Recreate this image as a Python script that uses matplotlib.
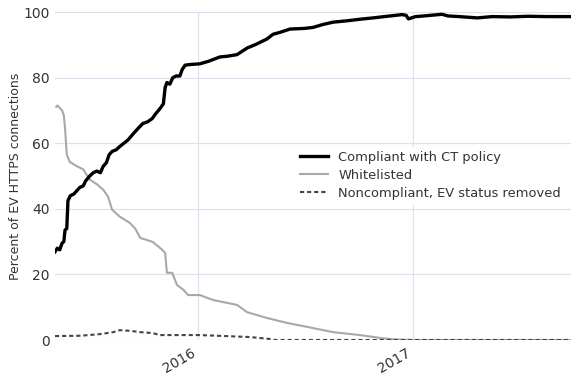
import matplotlib
matplotlib.use("Agg")
import matplotlib.pyplot as plt
import pandas as pd

# ── Series: share of EV HTTPS connections (%) ──────────────────────
compliant_dates = [
    "2015-05-04", "2015-05-08", "2015-05-12", "2015-05-16", "2015-05-19",
    "2015-05-21", "2015-05-24", "2015-05-26", "2015-05-30", "2015-06-05",
    "2015-06-10", "2015-06-15", "2015-06-21", "2015-06-25", "2015-07-02",
    "2015-07-08", "2015-07-14", "2015-07-20", "2015-07-25", "2015-07-30",
    "2015-08-04", "2015-08-09", "2015-08-16", "2015-08-22", "2015-08-29",
    "2015-09-05", "2015-09-12", "2015-09-22", "2015-09-30", "2015-10-08",
    "2015-10-16", "2015-10-22", "2015-10-29", "2015-11-04", "2015-11-07",
    "2015-11-10", "2015-11-15", "2015-11-20", "2015-11-26", "2015-12-02",
    "2015-12-06", "2015-12-11", "2015-12-20", "2016-01-05", "2016-01-20",
    "2016-02-08", "2016-02-20", "2016-03-08", "2016-03-25", "2016-04-10",
    "2016-04-28", "2016-05-08", "2016-05-20", "2016-06-06", "2016-07-01",
    "2016-07-15", "2016-08-01", "2016-08-18", "2016-09-10", "2016-10-03",
    "2016-10-25", "2016-11-18", "2016-12-13", "2016-12-20", "2016-12-24",
    "2017-01-05", "2017-01-13", "2017-02-19", "2017-03-01", "2017-03-20",
    "2017-04-20", "2017-05-15", "2017-06-15", "2017-07-15", "2017-08-15",
    "2017-09-26",
]
compliant = [
    26.9, 28.0, 27.5, 29.5, 30.0,
    33.5, 34.0, 42.5, 44.0, 44.5,
    45.5, 46.5, 47.0, 48.5, 50.0,
    51.0, 51.5, 51.0, 53.0, 54.0,
    56.5, 57.5, 58.0, 59.0, 60.0,
    61.0, 62.5, 64.5, 66.0, 66.5,
    67.5, 69.0, 70.5, 72.0, 77.0,
    78.5, 78.0, 80.0, 80.5, 80.5,
    82.5, 83.8, 84.0, 84.2, 85.0,
    86.3, 86.5, 87.0, 89.0, 90.2,
    91.8, 93.2, 93.8, 94.8, 95.0,
    95.3, 96.2, 96.9, 97.3, 97.8,
    98.2, 98.7, 99.2, 99.0, 97.9,
    98.6, 98.7, 99.3, 98.8, 98.6,
    98.2, 98.6, 98.5, 98.7, 98.6,
    98.6,
]

whitelisted_dates = [
    "2015-05-06", "2015-05-08", "2015-05-16", "2015-05-19", "2015-05-21",
    "2015-05-24", "2015-05-29", "2015-06-10", "2015-06-21", "2015-07-02",
    "2015-07-14", "2015-07-25", "2015-08-02", "2015-08-09", "2015-08-22",
    "2015-09-08", "2015-09-17", "2015-09-26", "2015-10-17", "2015-11-02",
    "2015-11-07", "2015-11-10", "2015-11-19", "2015-11-27", "2015-12-08",
    "2015-12-16", "2016-01-05", "2016-01-27", "2016-03-08", "2016-03-25",
    "2016-04-28", "2016-06-01", "2016-07-05", "2016-08-18", "2016-10-03",
    "2016-11-07", "2016-11-29", "2016-12-28", "2017-09-26",
]
whitelisted = [
    71.1, 71.5, 70.0, 68.5, 64.7,
    56.5, 54.3, 53.0, 52.0, 48.9,
    47.5, 45.8, 43.7, 39.7, 37.6,
    35.7, 34.0, 31.1, 29.9, 27.5,
    26.5, 20.5, 20.5, 16.8, 15.3,
    13.7, 13.7, 12.2, 10.7, 8.5,
    6.7, 5.2, 4.0, 2.4, 1.5,
    0.6, 0.2, 0.0, 0.0,
]

removed_dates = [
    "2015-05-04", "2015-06-16", "2015-07-20", "2015-08-11", "2015-08-22",
    "2015-09-08", "2015-09-26", "2015-10-17", "2015-10-29", "2016-01-05",
    "2016-03-30", "2016-05-03", "2016-05-12", "2017-09-26",
]
removed = [
    1.2, 1.3, 1.8, 2.4, 3.0,
    2.8, 2.4, 2.1, 1.5, 1.5,
    0.9, 0.3, 0.0, 0.0,
]

x_start, x_end = "2015-05-04", "2017-09-26"
year_ticks = ["2016-01-01", "2017-01-01"]
year_labels = ["2016", "2017"]

TXT = "#333333"
GRID = "#dde2ec"

fig = plt.figure(figsize=(5.71, 3.76), dpi=100)
ax = fig.add_axes([55 / 571, 36 / 376, 516 / 571, 328 / 376])

ax.plot(pd.to_datetime(compliant_dates), compliant, color="black", lw=2.4,
        label="Compliant with CT policy", zorder=4)
ax.plot(pd.to_datetime(whitelisted_dates), whitelisted, color="#a8a8a8",
        lw=1.5, label="Whitelisted", zorder=3)
ax.plot(pd.to_datetime(removed_dates), removed, color="#444444", lw=1.5,
        ls=(0, (2.0, 1.4)), label="Noncompliant, EV status removed", zorder=3)

ax.set_xlim(pd.Timestamp(x_start), pd.Timestamp(x_end))
ax.set_ylim(0, 100)
ax.set_yticks([0, 20, 40, 60, 80, 100])
ax.set_xticks(pd.to_datetime(year_ticks))
ax.set_xticklabels(year_labels, rotation=30, ha="right")

ax.grid(True, color=GRID, lw=0.9)
ax.set_axisbelow(True)
for s in ax.spines.values():
    s.set_visible(False)
ax.tick_params(length=0, labelsize=10, colors=TXT, pad=4)
ax.set_ylabel("Percent of EV HTTPS connections", fontsize=9, color=TXT,
              labelpad=1)

leg = ax.legend(loc="upper left", bbox_to_anchor=(0.455, 0.608), fontsize=9.4,
                frameon=True, framealpha=1.0, edgecolor="white",
                handlelength=2.1, labelspacing=0.38, borderpad=0.3)
for t in leg.get_texts():
    t.set_color(TXT)

fig.savefig("out.png", dpi=100)
